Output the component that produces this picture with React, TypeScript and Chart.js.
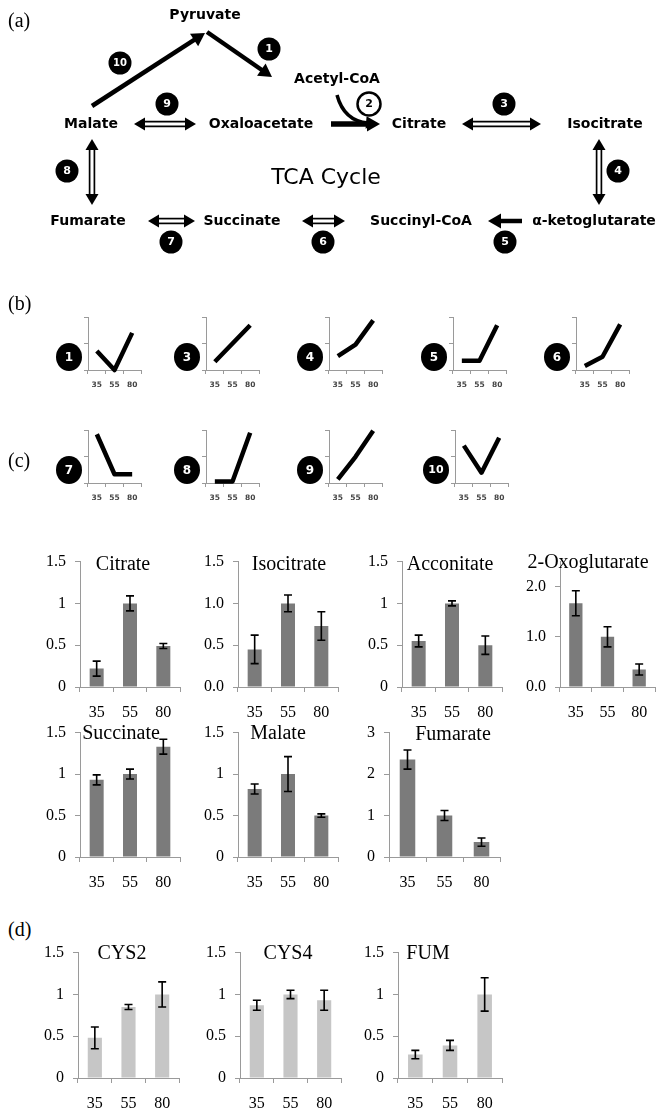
import React, { useEffect, useRef } from 'react';
import { Chart, registerables } from 'chart.js';

Chart.register(...registerables);

const SERIF = '"Liberation Serif", "Times New Roman", serif';
const SANS = '"DejaVu Sans", Arial, sans-serif';

// ---------------- data ----------------
const temps = ['35', '55', '80'];

// (a) TCA cycle diagram
const metaboliteNames = ['Pyruvate', 'Acetyl-CoA', 'Malate', 'Oxaloacetate', 'Citrate', 'Isocitrate', 'Fumarate', 'Succinate', 'Succinyl-CoA', 'α-ketoglutarate'];
const reactionNumbers = ['10', '1', '2', '9', '3', '4', '8', '7', '6', '5'];

// (b) expression trends of the reactions (relative)
const trendNumbers = ['1', '3', '4', '5', '6', '7', '8', '9', '10'];
const trend1 = [0.72, 0.0, 1.4];
const trend3 = [0.31, 1.0, 1.69];
const trend4 = [0.52, 0.96, 1.87];
const trend5 = [0.35, 0.35, 1.69];
const trend6 = [0.15, 0.5, 1.72];
const trend7 = [1.84, 0.33, 0.33];
const trend8 = [0.06, 0.06, 1.9];
const trend9 = [0.14, 0.99, 1.97];
const trend10 = [1.41, 0.39, 1.71];

// (c) metabolites
const citrateVals = [0.22, 1.0, 0.49];
const citrateErr = [0.09, 0.09, 0.03];
const isocitrateVals = [0.45, 1.0, 0.73];
const isocitrateErr = [0.17, 0.1, 0.17];
const acconitateVals = [0.55, 1.0, 0.5];
const acconitateErr = [0.07, 0.03, 0.11];
const oxoglutarateVals = [1.67, 1.0, 0.35];
const oxoglutarateErr = [0.25, 0.2, 0.11];
const succinateVals = [0.93, 1.0, 1.33];
const succinateErr = [0.06, 0.06, 0.09];
const malateVals = [0.82, 1.0, 0.5];
const malateErr = [0.06, 0.21, 0.02];
const fumarateVals = [2.35, 1.0, 0.36];
const fumarateErr = [0.23, 0.12, 0.1];

// (d) genes
const cys2Vals = [0.48, 0.85, 1.0];
const cys2Err = [0.13, 0.03, 0.15];
const cys4Vals = [0.87, 1.0, 0.93];
const cys4Err = [0.06, 0.05, 0.12];
const fumVals = [0.28, 0.39, 1.0];
const fumErr = [0.05, 0.06, 0.2];

// ---------------- diagram layout (diagram coordinates) ----------------
const metabolitePos: [number, number][] = [
  [205, 15], [337, 79], [91, 124], [261, 124], [419, 124], [605, 124],
  [88, 221], [242, 221], [421, 221], [594, 221],
];
const badgePos: [number, number, boolean][] = [
  [120, 63, false], [269, 49, false], [369, 104, true], [167, 104, false], [504, 104, false],
  [618, 171, false], [67, 171, false], [171, 242, false], [323, 242, false], [505, 242, false],
];
const arrowLayout: { kind: string; a: [number, number]; b: [number, number]; w?: number }[] = [
  { kind: 'single', a: [92, 106], b: [205, 33] },
  { kind: 'single', a: [207, 32], b: [272, 77] },
  { kind: 'double', a: [134, 124], b: [196, 124] },
  { kind: 'single', a: [331, 124], b: [380, 124], w: 5.5 },
  { kind: 'double', a: [462, 124], b: [541, 124] },
  { kind: 'double', a: [599, 139], b: [599, 205] },
  { kind: 'single', a: [522, 221], b: [488, 221] },
  { kind: 'double', a: [302, 221], b: [345, 221] },
  { kind: 'double', a: [148, 221], b: [195, 221] },
  { kind: 'double', a: [92, 139], b: [92, 205] },
];

// ---------------- plugins ----------------
function arrowHead(ctx: CanvasRenderingContext2D, x: number, y: number, ang: number, len: number, hw: number) {
  const c = Math.cos(ang), s = Math.sin(ang);
  ctx.beginPath();
  ctx.moveTo(x, y);
  ctx.lineTo(x - len * c + hw * s, y - len * s - hw * c);
  ctx.lineTo(x - len * c - hw * s, y - len * s + hw * c);
  ctx.closePath();
  ctx.fill();
}

const diagramPlugin = {
  id: 'tcaDiagram',
  afterDatasetsDraw(chart: any) {
    const ctx: CanvasRenderingContext2D = chart.ctx;
    const xs = chart.scales.x, ys = chart.scales.y;
    const px = (v: number) => xs.getPixelForValue(v);
    const py = (v: number) => ys.getPixelForValue(v);
    ctx.save();
    ctx.fillStyle = '#000';
    ctx.strokeStyle = '#000';
    ctx.lineCap = 'butt';

    // arrows
    arrowLayout.forEach((ar) => {
      const x1 = px(ar.a[0]), y1 = py(ar.a[1]), x2 = px(ar.b[0]), y2 = py(ar.b[1]);
      const ang = Math.atan2(y2 - y1, x2 - x1);
      const c = Math.cos(ang), s = Math.sin(ang);
      if (ar.kind === 'single') {
        const len = 13, hw = 7.5;
        ctx.lineWidth = ar.w || 4.5;
        ctx.beginPath();
        ctx.moveTo(x1, y1);
        ctx.lineTo(x2 - (len - 2) * c, y2 - (len - 2) * s);
        ctx.stroke();
        arrowHead(ctx, x2, y2, ang, len, hw);
      } else {
        const len = 11, hw = 6.5, off = 2.4;
        const sx = x1 + (len - 1) * c, sy = y1 + (len - 1) * s;
        const ex = x2 - (len - 1) * c, ey = y2 - (len - 1) * s;
        ctx.lineWidth = 1.7;
        [-off, off].forEach((o) => {
          ctx.beginPath();
          ctx.moveTo(sx - o * s, sy + o * c);
          ctx.lineTo(ex - o * s, ey + o * c);
          ctx.stroke();
        });
        arrowHead(ctx, x2, y2, ang, len, hw);
        arrowHead(ctx, x1, y1, ang + Math.PI, len, hw);
      }
    });

    // curved acetyl-CoA arrow
    ctx.lineWidth = 3.5;
    ctx.beginPath();
    ctx.moveTo(px(337), py(95));
    ctx.quadraticCurveTo(px(344), py(121), px(368), py(123));
    ctx.stroke();
    arrowHead(ctx, px(376), py(123.5), Math.atan2(2, 24), 10, 6);

    // metabolite labels
    ctx.font = `bold 14px ${SANS}`;
    ctx.textAlign = 'center';
    ctx.textBaseline = 'middle';
    metaboliteNames.forEach((n, i) => ctx.fillText(n, px(metabolitePos[i][0]), py(metabolitePos[i][1])));

    ctx.font = `22px ${SANS}`;
    ctx.fillText('TCA Cycle', px(326), py(178));

    // reaction number badges
    reactionNumbers.forEach((n, i) => {
      const [bx, by, open] = badgePos[i];
      ctx.beginPath();
      ctx.arc(px(bx), py(by), 11.5, 0, Math.PI * 2);
      if (open) {
        ctx.fillStyle = '#fff';
        ctx.fill();
        ctx.lineWidth = 2.5;
        ctx.stroke();
        ctx.fillStyle = '#000';
      } else {
        ctx.fillStyle = '#000';
        ctx.fill();
      }
      ctx.fillStyle = open ? '#000' : '#fff';
      ctx.font = `bold ${n.length > 1 ? 10 : 11}px ${SANS}`;
      ctx.fillText(n, px(bx), py(by) + 0.5);
      ctx.fillStyle = '#000';
    });
    ctx.restore();
  },
};

const errorBarPlugin = {
  id: 'errorBars',
  afterDatasetsDraw(chart: any, _args: any, opts: any) {
    const errs: number[] = opts.errors;
    if (!errs) return;
    const meta = chart.getDatasetMeta(0);
    const ys = chart.scales.y;
    const ctx: CanvasRenderingContext2D = chart.ctx;
    const vals = chart.data.datasets[0].data as number[];
    ctx.save();
    ctx.strokeStyle = '#000';
    ctx.lineWidth = 1.6;
    meta.data.forEach((bar: any, i: number) => {
      const yt = ys.getPixelForValue(vals[i] + errs[i]);
      const yb = ys.getPixelForValue(vals[i] - errs[i]);
      const x = bar.x;
      ctx.beginPath();
      ctx.moveTo(x, yt); ctx.lineTo(x, yb);
      ctx.moveTo(x - 4, yt); ctx.lineTo(x + 4, yt);
      ctx.moveTo(x - 4, yb); ctx.lineTo(x + 4, yb);
      ctx.stroke();
    });
    ctx.restore();
  },
};

const titlePlugin = {
  id: 'panelTitle',
  afterDraw(chart: any, _args: any, opts: any) {
    if (!opts.text) return;
    const ctx: CanvasRenderingContext2D = chart.ctx;
    ctx.save();
    ctx.font = `20px ${SERIF}`;
    ctx.fillStyle = '#000';
    ctx.textAlign = 'center';
    ctx.textBaseline = 'middle';
    ctx.fillText(opts.text, opts.x, opts.y);
    ctx.restore();
  },
};

const badgePlugin = {
  id: 'trendBadge',
  afterDraw(chart: any, _args: any, opts: any) {
    if (!opts.text) return;
    const ctx: CanvasRenderingContext2D = chart.ctx;
    const a = chart.chartArea;
    const cx = a.left - 19, cy = a.bottom - 13;
    ctx.save();
    ctx.fillStyle = '#000';
    ctx.beginPath();
    ctx.ellipse(cx, cy, 13, 14, 0, 0, Math.PI * 2);
    ctx.fill();
    ctx.fillStyle = '#fff';
    ctx.font = `bold ${opts.text.length > 1 ? 11 : 12}px ${SANS}`;
    ctx.textAlign = 'center';
    ctx.textBaseline = 'middle';
    ctx.fillText(opts.text, cx, cy + 0.5);
    ctx.restore();
  },
};

// ---------------- components ----------------
function DiagramPanel() {
  const ref = useRef<HTMLCanvasElement>(null);
  const W = 661, H = 270;
  useEffect(() => {
    const chart = new Chart(ref.current!, {
      type: 'scatter',
      data: {
        datasets: [{ data: metabolitePos.map(([x, y]) => ({ x, y })), pointRadius: 0 }],
      },
      options: {
        responsive: false,
        animation: false,
        layout: { padding: 0 },
        plugins: { legend: { display: false }, tooltip: { enabled: false } },
        scales: {
          x: { type: 'linear', min: 0, max: W, display: false },
          y: { type: 'linear', min: 0, max: H, reverse: true, display: false },
        },
      },
      plugins: [diagramPlugin],
    } as any);
    return () => chart.destroy();
  }, []);
  return <canvas ref={ref} width={W} height={H} style={{ position: 'absolute', left: 0, top: 0, width: W, height: H }} />;
}

const LW = 40, LPT = 6, LPR = 6, LXH = 26, LSPAN = 53;
const AXIS_GREY = '#9a9a9a';

function TrendPanel({ num, values, axisX, top, bottom }: { num: string; values: number[]; axisX: number; top: number; bottom: number }) {
  const ref = useRef<HTMLCanvasElement>(null);
  const left = axisX - LW, ctop = top - LPT;
  const width = LW + LSPAN + LPR, height = LPT + (bottom - top) + LXH;
  useEffect(() => {
    const chart = new Chart(ref.current!, {
      type: 'line',
      data: {
        labels: temps,
        datasets: [{ data: values, borderColor: '#000', borderWidth: 4.5, pointRadius: 0, tension: 0, clip: false, borderJoinStyle: 'round' }],
      },
      options: {
        responsive: false,
        animation: false,
        layout: { padding: { top: LPT, right: LPR, left: 0, bottom: 0 } },
        plugins: { legend: { display: false }, tooltip: { enabled: false }, trendBadge: { text: num } },
        scales: {
          x: {
            offset: true,
            grid: { offset: true, drawOnChartArea: false, drawTicks: true, tickLength: 4, color: AXIS_GREY },
            border: { display: true, color: AXIS_GREY },
            ticks: { font: { family: SANS, size: 7.5, weight: 'bold' }, color: '#444', padding: 7, maxRotation: 0 },
            afterFit: (s: any) => { s.height = LXH; },
          },
          y: {
            min: 0, max: 2,
            ticks: { stepSize: 1, display: false },
            grid: { drawOnChartArea: false, drawTicks: true, tickLength: 4, color: AXIS_GREY },
            border: { display: true, color: AXIS_GREY },
            afterFit: (s: any) => { s.width = LW; },
          },
        },
      },
      plugins: [badgePlugin],
    } as any);
    return () => chart.destroy();
  }, []);
  return <canvas ref={ref} width={width} height={height} style={{ position: 'absolute', left, top: ctop, width, height }} />;
}

type BarSpec = {
  title: string; values: number[]; errors: number[]; max: number; step: number; decimals?: number;
  color: string; axisX: number; right: number; top: number; bottom: number; titleX: number; titleY: number;
};

const YW = 52, PT = 14, PR = 8, XH = 36;

function BarPanel({ spec }: { spec: BarSpec }) {
  const ref = useRef<HTMLCanvasElement>(null);
  const topPx = spec.bottom - (spec.bottom - spec.top);
  const left = spec.axisX - YW, ctop = topPx - PT;
  const width = YW + (spec.right - spec.axisX) + PR;
  const height = PT + (spec.bottom - spec.top) + XH;
  useEffect(() => {
    const chart = new Chart(ref.current!, {
      type: 'bar',
      data: {
        labels: temps,
        datasets: [{ data: spec.values, backgroundColor: spec.color, borderWidth: 0, barPercentage: 0.42, categoryPercentage: 1 }],
      },
      options: {
        responsive: false,
        animation: false,
        layout: { padding: { top: PT, right: PR, left: 0, bottom: 0 } },
        plugins: {
          legend: { display: false },
          tooltip: { enabled: false },
          errorBars: { errors: spec.errors },
          panelTitle: { text: spec.title, x: spec.titleX - left, y: spec.titleY - ctop },
        },
        scales: {
          x: {
            grid: { offset: true, drawOnChartArea: false, drawTicks: true, tickLength: 5, color: AXIS_GREY },
            border: { display: true, color: AXIS_GREY },
            ticks: { font: { family: SERIF, size: 16 }, color: '#000', padding: 11, maxRotation: 0 },
            afterFit: (s: any) => { s.height = XH; },
          },
          y: {
            min: 0, max: spec.max,
            ticks: {
              stepSize: spec.step, includeBounds: false,
              font: { family: SERIF, size: 16 }, color: '#000', padding: 9,
              callback: (v: any) => (spec.decimals != null ? Number(v).toFixed(spec.decimals) : String(v)),
            },
            grid: { drawOnChartArea: false, drawTicks: true, tickLength: 5, color: AXIS_GREY },
            border: { display: true, color: AXIS_GREY },
            afterFit: (s: any) => { s.width = YW; },
          },
        },
      },
      plugins: [errorBarPlugin, titlePlugin],
    } as any);
    return () => chart.destroy();
  }, []);
  return <canvas ref={ref} width={width} height={height} style={{ position: 'absolute', left, top: ctop, width, height }} />;
}

const DARK = '#7b7b7b';
const LIGHT = '#c6c6c6';

const barSpecs: BarSpec[] = [
  { title: 'Citrate', values: citrateVals, errors: citrateErr, max: 1.5, step: 0.5, color: DARK, axisX: 80, right: 180, top: 557, bottom: 687, titleX: 123, titleY: 565 },
  { title: 'Isocitrate', values: isocitrateVals, errors: isocitrateErr, max: 1.5, step: 0.5, decimals: 1, color: DARK, axisX: 238, right: 338, top: 557, bottom: 687, titleX: 289, titleY: 565 },
  { title: 'Acconitate', values: acconitateVals, errors: acconitateErr, max: 1.5, step: 0.5, color: DARK, axisX: 402, right: 502, top: 557, bottom: 687, titleX: 450, titleY: 565 },
  { title: '2-Oxoglutarate', values: oxoglutarateVals, errors: oxoglutarateErr, max: 2.5, step: 1, decimals: 1, color: DARK, axisX: 560, right: 655, top: 557, bottom: 687, titleX: 588, titleY: 563 },
  { title: 'Succinate', values: succinateVals, errors: succinateErr, max: 1.5, step: 0.5, color: DARK, axisX: 80, right: 180, top: 728, bottom: 857, titleX: 121, titleY: 734 },
  { title: 'Malate', values: malateVals, errors: malateErr, max: 1.5, step: 0.5, color: DARK, axisX: 238, right: 338, top: 728, bottom: 857, titleX: 278, titleY: 734 },
  { title: 'Fumarate', values: fumarateVals, errors: fumarateErr, max: 3, step: 1, color: DARK, axisX: 389, right: 500, top: 728, bottom: 857, titleX: 453, titleY: 735 },
  { title: 'CYS2', values: cys2Vals, errors: cys2Err, max: 1.5, step: 0.5, color: LIGHT, axisX: 78, right: 179, top: 948, bottom: 1078, titleX: 122, titleY: 954 },
  { title: 'CYS4', values: cys4Vals, errors: cys4Err, max: 1.5, step: 0.5, color: LIGHT, axisX: 240, right: 341, top: 948, bottom: 1078, titleX: 288, titleY: 954 },
  { title: 'FUM', values: fumVals, errors: fumErr, max: 1.5, step: 0.5, color: LIGHT, axisX: 398, right: 502, top: 948, bottom: 1078, titleX: 428, titleY: 954 },
];

const trendSeries = [trend1, trend3, trend4, trend5, trend6, trend7, trend8, trend9, trend10];
const trendAxisX = [88, 206, 329, 453, 576, 88, 206, 329, 455];
const trendRowTop = [317, 317, 317, 317, 317, 430, 430, 430, 430];

function PanelLabel({ text, cy }: { text: string; cy: number }) {
  return (
    <div style={{ position: 'absolute', left: 8, top: cy - 12, fontFamily: SERIF, fontSize: 20, lineHeight: '24px', color: '#000' }}>
      {text}
    </div>
  );
}

export default function App() {
  return (
    <div style={{ position: 'absolute', left: 0, top: 0, width: 661, height: 1112, background: '#fff', overflow: 'hidden' }}>
      <DiagramPanel />
      <PanelLabel text="(a)" cy={20} />
      <PanelLabel text="(b)" cy={303} />
      <PanelLabel text="(c)" cy={460} />
      <PanelLabel text="(d)" cy={929} />
      {trendSeries.map((vals, i) => (
        <TrendPanel key={i} num={trendNumbers[i]} values={vals} axisX={trendAxisX[i]} top={trendRowTop[i]} bottom={trendRowTop[i] + 53} />
      ))}
      {barSpecs.map((s, i) => (
        <BarPanel key={i} spec={s} />
      ))}
    </div>
  );
}
